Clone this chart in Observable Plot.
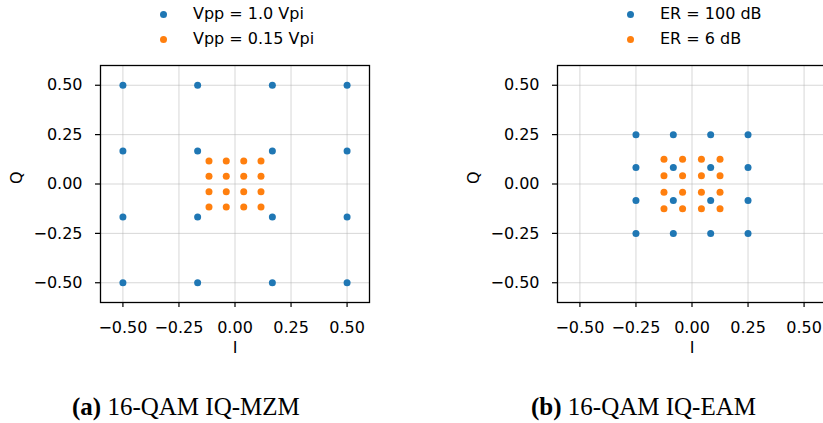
<!DOCTYPE html>
<html><head><meta charset="utf-8">
<script src="https://cdn.jsdelivr.net/npm/d3@7"></script>
<script src="https://cdn.jsdelivr.net/npm/@observablehq/plot@0.6"></script>
<style>
html,body{margin:0;padding:0;background:#fff;}
#root{position:relative;width:823px;height:423px;overflow:hidden;font-family:"DejaVu Sans",sans-serif;}
.panel{position:absolute;top:0;}
.leg{position:absolute;font-size:16px;color:#000;line-height:1;white-space:nowrap;}
.legdot{position:absolute;width:7px;height:7px;border-radius:50%;}
.caption{position:absolute;font-family:"Liberation Serif",serif;font-size:25px;color:#000;white-space:nowrap;line-height:1;}
</style>
</head><body>
<div id="root"></div>
<script>
// Tick values shared by both panels
const ticks = [-0.5, -0.25, 0, 0.25, 0.5];

// Panel (a): 16-QAM IQ-MZM
const mzmLabels = ["Vpp = 1.0 Vpi", "Vpp = 0.15 Vpi"];
const mzmLevelsFull = [-0.5, -0.1667, 0.1667, 0.5];
const mzmLevelsLow = [-0.116, -0.039, 0.039, 0.116];

// Panel (b): 16-QAM IQ-EAM
const eamLabels = ["ER = 100 dB", "ER = 6 dB"];
const eamLevelsFull = [-0.25, -0.0833, 0.0833, 0.25];
const eamLevelsLow = [-0.125, -0.042, 0.042, 0.125];

const captions = [["(a)", " 16-QAM IQ-MZM"], ["(b)", " 16-QAM IQ-EAM"]];
const colors = ["#1f77b4", "#ff7f0e"];

function grid(levels) {
  const pts = [];
  for (const i of levels) for (const q of levels) pts.push({I: i, Q: q});
  return pts;
}

function panel(full, low) {
  const fmt = d3.format(".2f");
  return Plot.plot({
    width: 411, height: 423,
    marginLeft: 100, marginRight: 42, marginTop: 65, marginBottom: 121,
    style: {fontFamily: "DejaVu Sans", fontSize: "16px", background: "transparent"},
    x: {domain: [-0.6, 0.6]},
    y: {domain: [-0.6, 0.6]},
    marks: [
      Plot.gridX(ticks, {stroke: "#b0b0b0", strokeOpacity: 0.5, strokeWidth: 1}),
      Plot.gridY(ticks, {stroke: "#b0b0b0", strokeOpacity: 0.5, strokeWidth: 1}),
      Plot.axisX(ticks, {tickSize: 5, tickPadding: 14, tickFormat: fmt, label: null, fontSize: 16, stroke: "black", strokeWidth: 1.2, fill: "black"}),
      Plot.axisY(ticks, {tickSize: 5, tickPadding: 13, tickFormat: fmt, label: null, fontSize: 16, stroke: "black", strokeWidth: 1.2, fill: "black"}),
      Plot.dot(grid(full), {x: "I", y: "Q", r: 3.5, fill: colors[0], stroke: null}),
      Plot.dot(grid(low), {x: "I", y: "Q", r: 3.5, fill: colors[1], stroke: null}),
      Plot.frame({stroke: "black", strokeWidth: 1.3}),
      Plot.text(["I"], {frameAnchor: "bottom", dy: 50, fontSize: 16, fill: "black"}),
      Plot.text(["Q"], {frameAnchor: "left", dx: -84, rotate: -90, fontSize: 16, fill: "black"})
    ]
  });
}

const root = document.getElementById("root");
function addPanel(left, full, low, labels, dotX, textX, cap, capX) {
  const p = panel(full, low);
  p.classList.add("panel");
  p.style.left = left + "px";
  root.appendChild(p);
  labels.forEach((lab, k) => {
    const y = [14.5, 39][k];
    const d = document.createElement("div");
    d.className = "legdot";
    d.style.background = colors[k];
    d.style.left = (dotX - 3.5) + "px";
    d.style.top = (y - 3.5) + "px";
    root.appendChild(d);
    const t = document.createElement("div");
    t.className = "leg";
    t.textContent = lab;
    t.style.left = textX + "px";
    t.style.top = (y - 8.5) + "px";
    root.appendChild(t);
  });
  const c = document.createElement("div");
  c.className = "caption";
  c.innerHTML = "<b>" + cap[0] + "</b>" + cap[1];
  c.style.left = capX + "px";
  c.style.top = "394px";
  root.appendChild(c);
}
addPanel(0, mzmLevelsFull, mzmLevelsLow, mzmLabels, 163, 193, captions[0], 72);
addPanel(457, eamLevelsFull, eamLevelsLow, eamLabels, 630, 660, captions[1], 531);
</script>
</body></html>
